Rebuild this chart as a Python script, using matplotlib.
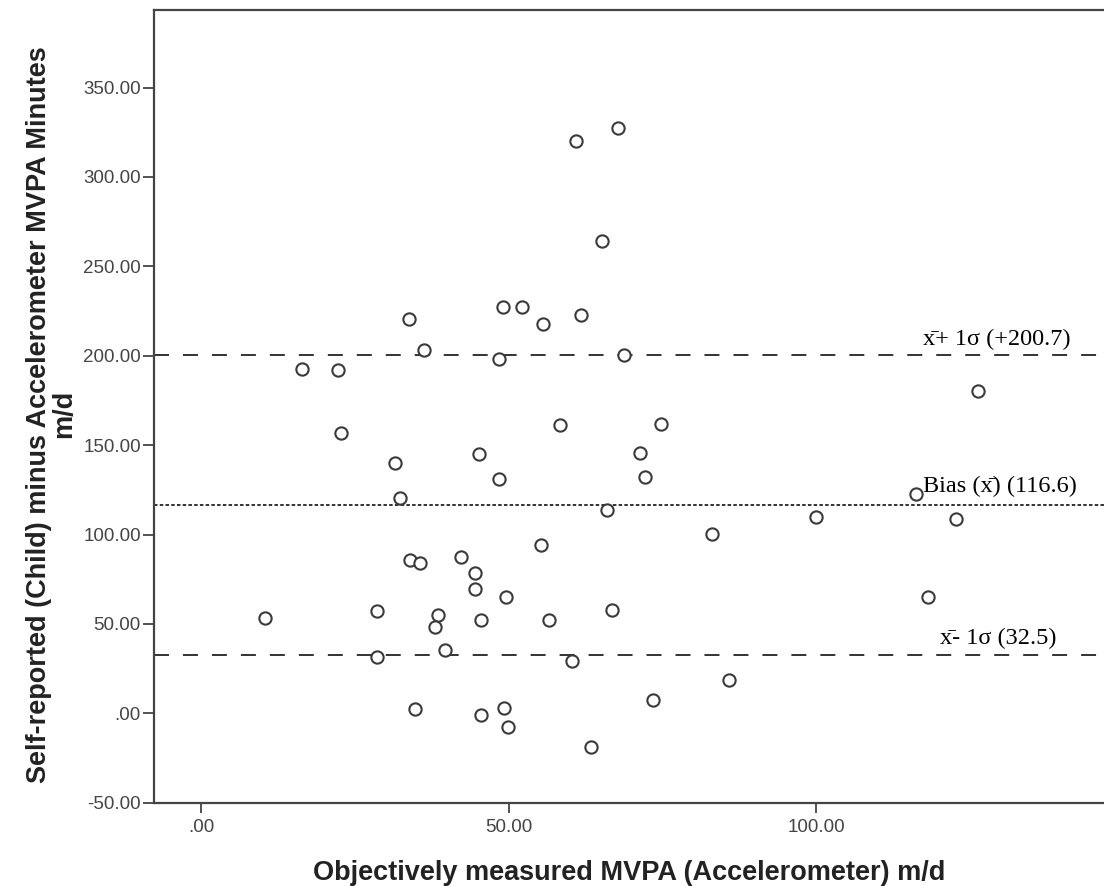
import matplotlib
matplotlib.use("Agg")
import matplotlib.pyplot as plt
from matplotlib.ticker import FuncFormatter

# Objectively measured MVPA (accelerometer) m/d
accel = [10.3, 33.9, 35.5, 42.2, 44.5, 44.5, 49.5, 55.3, 28.5, 38.5,
         38.0, 45.4, 56.5, 28.6, 39.6, 60.2, 34.7, 45.4, 49.2, 49.9,
         63.4, 33.7, 36.2, 16.3, 22.3, 61.0, 67.7, 65.2, 49.1, 52.2,
         55.5, 61.7, 48.4, 68.7, 22.7, 31.5, 32.3, 45.2, 48.4, 58.3,
         74.7, 71.3, 72.1, 65.9, 99.9, 83.0, 66.8, 85.8, 73.4, 126.3,
         116.3, 122.8, 118.2]
# Self-reported minus accelerometer MVPA minutes m/d
diff = [53.6, 85.5, 84.2, 87.5, 78.6, 69.7, 64.9, 94.1, 57.5, 55.1,
        48.2, 52.3, 52.3, 31.4, 35.5, 29.5, 2.5, -0.7, 2.8, -7.8,
        -18.6, 220.4, 203.1, 192.8, 191.9, 320.3, 327.6, 264.1, 227.3, 227.0,
        217.6, 222.7, 198.4, 200.7, 156.8, 140.2, 120.6, 145.2, 130.9, 161.1,
        162.0, 145.6, 132.1, 113.5, 109.7, 100.4, 57.9, 18.8, 7.7, 180.3,
        122.8, 108.8, 65.3]

bias = 116.6
upper = 200.7
lower = 32.5
ref_labels = ["x\u0304+ 1\u03c3 (+200.7)", "Bias (x\u0304) (116.6)", "x\u0304- 1\u03c3 (32.5)"]

x_ticks = [0, 50, 100]
y_ticks = [-50, 0, 50, 100, 150, 200, 250, 300, 350]

plt.rcParams["font.family"] = ["Liberation Sans", "DejaVu Sans"]

fig = plt.figure(figsize=(11.04, 8.86), dpi=100)
ax = fig.add_axes([0.1395, 0.094, 0.8605, 0.8947])

spine_c = "#444444"
ax.axhline(upper, color="#333333", lw=1.4, dashes=(7.7, 7.2))
ax.axhline(lower, color="#333333", lw=1.4, dashes=(7.7, 7.2))
ax.axhline(bias, color="#333333", lw=1.4, dashes=(1.8, 1.15))

ax.scatter(accel, diff, s=78, facecolors="white", edgecolors="#3a3a3a",
           linewidths=1.5, zorder=3)

serif = ["Liberation Serif", "DejaVu Serif"]
ax.text(117.3, upper + 5.2, ref_labels[0], fontsize=17.5, family=serif, va="baseline")
ax.text(117.4, bias + 7.1, ref_labels[1], fontsize=17.5, family=serif, va="baseline")
ax.text(120.2, lower + 6.5, ref_labels[2], fontsize=17.5, family=serif, va="baseline")

ax.set_xlim(-7.7, 146.8)
ax.set_ylim(-50, 393.4)
ax.set_xticks(x_ticks)
ax.set_yticks(y_ticks)
fmt = FuncFormatter(lambda v, p: ".00" if v == 0 else f"{v:.2f}")
ax.xaxis.set_major_formatter(fmt)
ax.yaxis.set_major_formatter(fmt)

for s in ["left", "bottom", "top"]:
    ax.spines[s].set_color(spine_c)
    ax.spines[s].set_linewidth(1.6)
ax.spines["right"].set_visible(False)

ax.tick_params(axis="y", length=8, width=1.3, color=spine_c, pad=1.5,
               labelsize=13.5, labelcolor="#444444")
ax.tick_params(axis="x", length=7, width=1.3, color=spine_c, pad=5,
               labelsize=13.5, labelcolor="#444444")

ax.set_xlabel("Objectively measured MVPA (Accelerometer) m/d", fontsize=19.5,
              fontweight="bold", color="#222222", labelpad=17)
ax.set_ylabel("Self-reported (Child) minus Accelerometer MVPA Minutes\nm/d",
              fontsize=19.5, fontweight="bold", color="#222222", labelpad=6,
              linespacing=0.95)
ax.yaxis.set_label_coords(-0.081, 0.49)

fig.savefig("out.png", dpi=100)
